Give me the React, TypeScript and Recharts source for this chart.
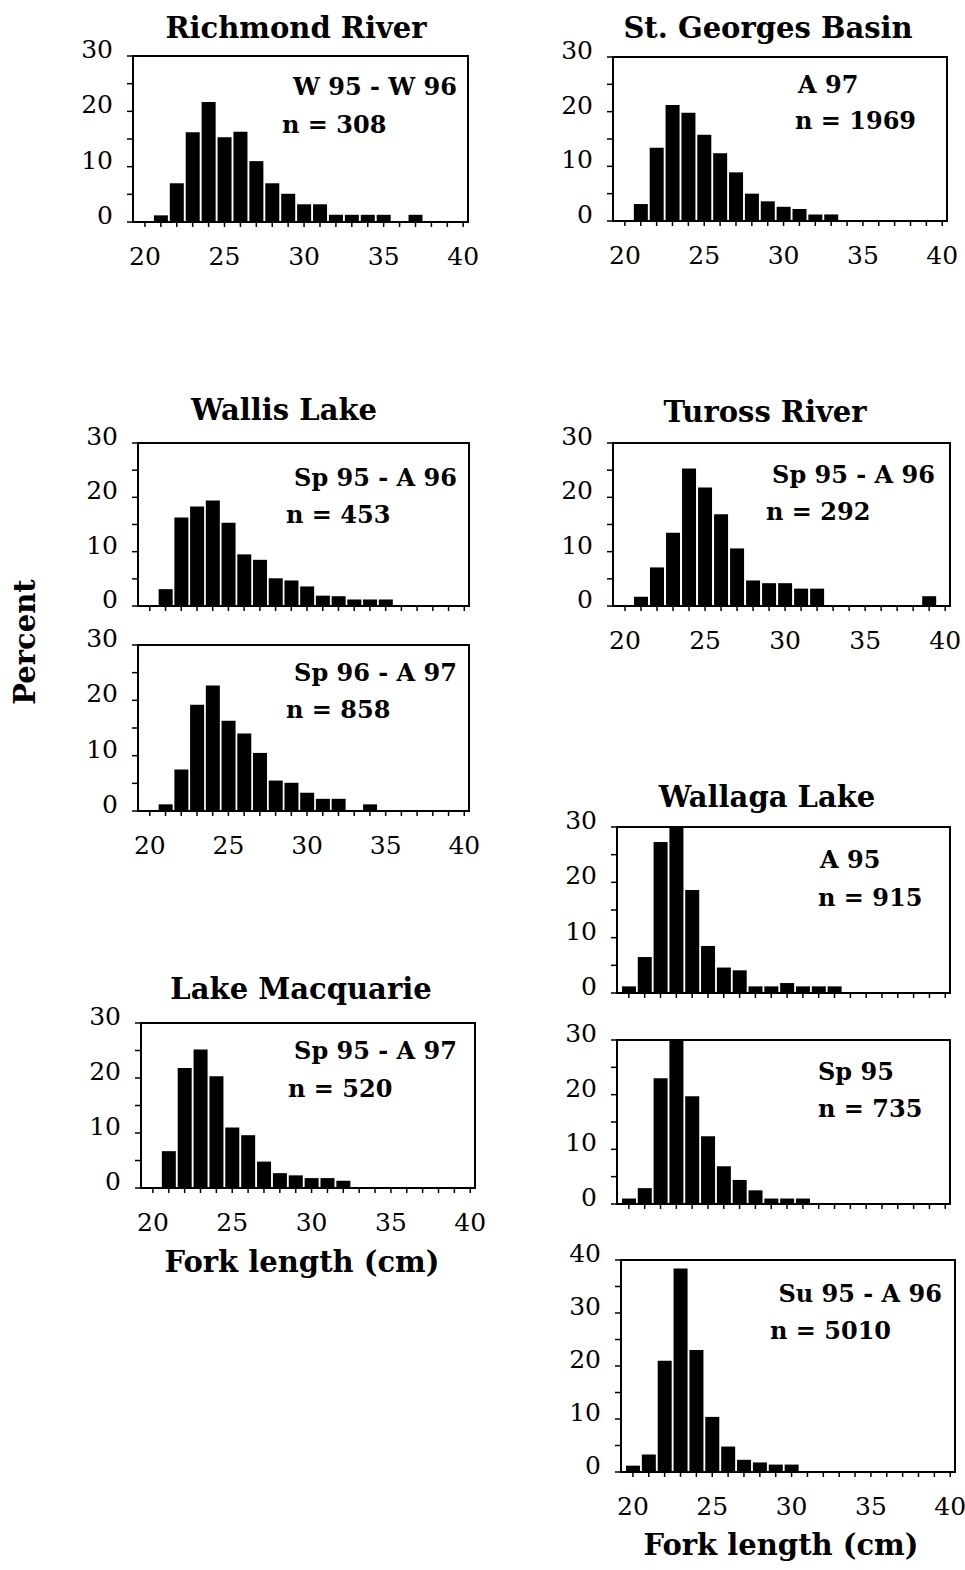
import React from "react";
import { BarChart, Bar, XAxis, YAxis, ReferenceArea } from "recharts";

// --- Fork length classes (cm), shared by every panel ---
const forkLengths = [20, 21, 22, 23, 24, 25, 26, 27, 28, 29, 30, 31, 32, 33, 34, 35, 36, 37, 38, 39, 40];
const xLabelTicks = [20, 25, 30, 35, 40];

// --- Percent per length class (aligned with forkLengths) ---
const richmondPct = [0, 1.2, 7, 16.2, 21.7, 15.3, 16.3, 11, 7, 5.1, 3.2, 3.2, 1.3, 1.3, 1.3, 1.3, 0, 1.3, 0, 0, 0];
const stGeorgesPct = [0, 3.1, 13.4, 21.2, 19.8, 15.8, 12.4, 8.9, 5, 3.6, 2.6, 2.2, 1.2, 1.2, 0, 0, 0, 0, 0, 0, 0];
const wallis9596Pct = [0, 3.1, 16.3, 18.3, 19.4, 15.3, 9.5, 8.5, 5.1, 4.7, 3.6, 1.9, 1.8, 1.2, 1.2, 1.2, 0, 0, 0, 0, 0];
const wallis9697Pct = [0, 1.2, 7.5, 19.2, 22.7, 16.3, 14, 10.5, 5.5, 5.1, 3.3, 2.2, 2.2, 0, 1.2, 0, 0, 0, 0, 0, 0];
const turossPct = [0, 1.7, 7.1, 13.5, 25.3, 21.8, 16.9, 10.6, 4.7, 4.2, 4.2, 3.2, 3.2, 0, 0, 0, 0, 0, 0, 1.8, 0];
const macquariePct = [0, 6.7, 21.8, 25.2, 20.3, 11, 9.6, 4.8, 2.7, 2.3, 1.8, 1.8, 1.3, 0, 0, 0, 0, 0, 0, 0, 0];
const wallagaA95Pct = [1.2, 6.5, 27.3, 30, 18.6, 8.5, 4.6, 4.1, 1.2, 1.2, 1.8, 1.2, 1.2, 1.2, 0, 0, 0, 0, 0, 0, 0];
const wallagaSp95Pct = [1, 2.9, 23, 30, 19.7, 12.4, 6.9, 4.4, 2.5, 1, 1, 1, 0, 0, 0, 0, 0, 0, 0, 0, 0];
const wallagaSu95Pct = [1.2, 3.3, 21, 38.4, 23, 10.4, 4.8, 2.3, 1.8, 1.4, 1.4, 0, 0, 0, 0, 0, 0, 0, 0, 0, 0];

const ticks30 = [0, 5, 10, 15, 20, 25, 30];
const ticks40 = [0, 5, 10, 15, 20, 25, 30, 35, 40];

const FONT = "'DejaVu Serif', 'Liberation Serif', serif";
const X_DOMAIN = [19.25, 40.3];
const AXIS_W = 60;
const TOP_PAD = 28;
const RIGHT_PAD = 14;
const AXIS_H = 56;

const makeXTick = (show: boolean) => (props: any) => {
  const { x, y, payload } = props;
  if (!show || !xLabelTicks.includes(payload.value)) return <g />;
  return (
    <text x={x} y={y + 36} textAnchor="middle" fontFamily={FONT} fontSize={25} fill="#000">
      {payload.value}
    </text>
  );
};

const YTick = (props: any) => {
  const { x, y, payload } = props;
  if (payload.value % 10 !== 0) return <g />;
  return (
    <text x={x - 12} y={y + 2} textAnchor="end" fontFamily={FONT} fontSize={25} fill="#000">
      {payload.value}
    </text>
  );
};

type PanelProps = {
  values: number[];
  left: number;
  top: number;
  right: number;
  bottom: number;
  yTicks: number[];
  xLabels: boolean;
};

const Panel = ({ values, left, top, right, bottom, yTicks, xLabels }: PanelProps) => {
  const frameW = right - left;
  const frameH = bottom - top;
  const yMax = yTicks[yTicks.length - 1];
  const data = forkLengths.map((len, i) => ({ len, pct: values[i] }));
  return (
    <div style={{ position: "absolute", left: left - AXIS_W, top: top - TOP_PAD }}>
      <BarChart
        width={AXIS_W + frameW + RIGHT_PAD}
        height={TOP_PAD + frameH + AXIS_H}
        data={data}
        margin={{ top: TOP_PAD, right: RIGHT_PAD, left: 0, bottom: 0 }}
      >
        <XAxis
          type="number"
          dataKey="len"
          domain={X_DOMAIN}
          allowDataOverflow
          ticks={forkLengths}
          interval={0}
          height={AXIS_H}
          tickSize={5}
          axisLine={false}
          tickLine={{ stroke: "#000", strokeWidth: 1.5 }}
          tick={makeXTick(xLabels)}
        />
        <YAxis
          type="number"
          domain={[0, yMax]}
          allowDataOverflow
          ticks={yTicks}
          interval={0}
          width={AXIS_W}
          tickSize={6}
          axisLine={false}
          tickLine={{ stroke: "#000", strokeWidth: 1.5 }}
          tick={YTick}
        />
        <Bar dataKey="pct" fill="#000" barSize={14} isAnimationActive={false} />
        <ReferenceArea
          x1={X_DOMAIN[0]}
          x2={X_DOMAIN[1]}
          y1={0}
          y2={yMax}
          fill="none"
          fillOpacity={0}
          stroke="#000"
          strokeWidth={2}
          ifOverflow="visible"
        />
      </BarChart>
    </div>
  );
};

const titleStyle = { fontFamily: FONT, fontWeight: 700, fontSize: 29, fill: "#000" } as const;
const noteStyle = { fontFamily: FONT, fontWeight: 700, fontSize: 24, fill: "#000" } as const;

export default function App() {
  return (
    <div
      style={{
        position: "absolute",
        left: 0,
        top: 0,
        width: 965,
        height: 1570,
        background: "#fff",
        fontFamily: FONT,
      }}
    >
      <Panel values={richmondPct} left={133} top={56} right={468} bottom={222} yTicks={ticks30} xLabels />
      <Panel values={stGeorgesPct} left={613} top={57} right={947} bottom={221} yTicks={ticks30} xLabels />
      <Panel values={wallis9596Pct} left={138} top={443} right={469} bottom={606} yTicks={ticks30} xLabels={false} />
      <Panel values={wallis9697Pct} left={138} top={645} right={469} bottom={811} yTicks={ticks30} xLabels />
      <Panel values={turossPct} left={613} top={443} right={950} bottom={606} yTicks={ticks30} xLabels />
      <Panel values={macquariePct} left={141} top={1023} right={475} bottom={1188} yTicks={ticks30} xLabels />
      <Panel values={wallagaA95Pct} left={617} top={827} right={950} bottom={993} yTicks={ticks30} xLabels={false} />
      <Panel values={wallagaSp95Pct} left={617} top={1040} right={950} bottom={1204} yTicks={ticks30} xLabels={false} />
      <Panel values={wallagaSu95Pct} left={621} top={1260} right={955} bottom={1472} yTicks={ticks40} xLabels />

      <svg
        width={965}
        height={1570}
        style={{ position: "absolute", left: 0, top: 0, pointerEvents: "none" }}
      >
        <text x={296} y={38} textAnchor="middle" {...titleStyle}>Richmond River</text>
        <text x={768} y={38} textAnchor="middle" {...titleStyle}>St. Georges Basin</text>
        <text x={284} y={420} textAnchor="middle" {...titleStyle}>Wallis Lake</text>
        <text x={765} y={422} textAnchor="middle" {...titleStyle}>Tuross River</text>
        <text x={767} y={807} textAnchor="middle" {...titleStyle}>Wallaga Lake</text>
        <text x={301} y={999} textAnchor="middle" {...titleStyle}>Lake Macquarie</text>

        <text x={457} y={95} textAnchor="end" {...noteStyle}>W 95 - W 96</text>
        <text x={282} y={133} {...noteStyle}>n = 308</text>
        <text x={798} y={93} {...noteStyle}>A 97</text>
        <text x={795} y={129} {...noteStyle}>n = 1969</text>
        <text x={457} y={486} textAnchor="end" {...noteStyle}>Sp 95 - A 96</text>
        <text x={286} y={523} {...noteStyle}>n = 453</text>
        <text x={457} y={681} textAnchor="end" {...noteStyle}>Sp 96 - A 97</text>
        <text x={286} y={718} {...noteStyle}>n = 858</text>
        <text x={935} y={483} textAnchor="end" {...noteStyle}>Sp 95 - A 96</text>
        <text x={766} y={520} {...noteStyle}>n = 292</text>
        <text x={457} y={1059} textAnchor="end" {...noteStyle}>Sp 95 - A 97</text>
        <text x={288} y={1097} {...noteStyle}>n = 520</text>
        <text x={820} y={868} {...noteStyle}>A 95</text>
        <text x={818} y={906} {...noteStyle}>n = 915</text>
        <text x={818} y={1080} {...noteStyle}>Sp 95</text>
        <text x={818} y={1117} {...noteStyle}>n = 735</text>
        <text x={942} y={1302} textAnchor="end" {...noteStyle}>Su 95 - A 96</text>
        <text x={770} y={1339} {...noteStyle}>n = 5010</text>

        <text x={302} y={1272} textAnchor="middle" {...titleStyle}>Fork length (cm)</text>
        <text x={781} y={1555} textAnchor="middle" {...titleStyle}>Fork length (cm)</text>
        <text
          x={0}
          y={0}
          textAnchor="middle"
          transform="translate(35 642) rotate(-90)"
          {...titleStyle}
        >
          Percent
        </text>
      </svg>
    </div>
  );
}
